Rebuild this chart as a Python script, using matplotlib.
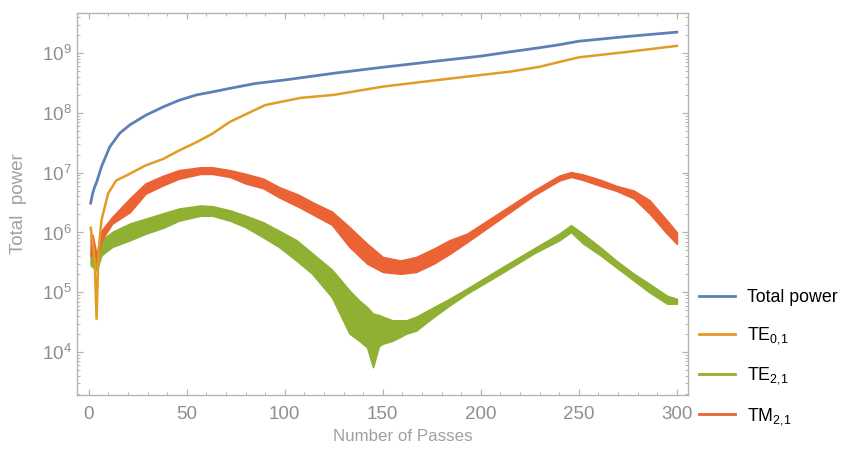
import matplotlib.pyplot as plt
from matplotlib.ticker import FixedLocator, LogLocator, MultipleLocator, NullFormatter

plt.rcParams['font.family'] = ['Liberation Sans', 'DejaVu Sans']
plt.rcParams['mathtext.fontset'] = 'custom'
plt.rcParams['mathtext.rm'] = 'Liberation Sans'

# Mathematica default palette
colors = ['#5E81B5', '#E19C24', '#8FB032', '#EB6235']

# Total power
total_passes = [1, 2, 3, 4, 6.5, 10.7, 15.8, 21, 29, 38, 46, 55, 63, 72, 85, 100,
                125, 150, 175, 200, 215, 230, 240, 250, 275, 300]
total_power = [3.1e6, 4.5e6, 5.75e6, 6.9e6, 1.26e7, 2.69e7, 4.57e7, 6.3e7, 9.1e7,
               1.26e8, 1.62e8, 2.0e8, 2.24e8, 2.57e8, 3.1e8, 3.55e8, 4.6e8, 5.8e8,
               7.2e8, 8.9e8, 1.05e9, 1.23e9, 1.38e9, 1.58e9, 1.9e9, 2.24e9]

# TE0,1
te01_passes = [1, 2, 3, 4, 5, 6.5, 9.9, 14, 19, 29, 38, 46, 55, 63, 72, 90, 108,
               125, 150, 175, 200, 215, 230, 240, 250, 275, 300]
te01_power = [1.2e6, 7e5, 3.5e5, 3.6e4, 5.0e5, 1.6e6, 4.5e6, 7.4e6, 8.9e6, 1.32e7,
              1.7e7, 2.34e7, 3.24e7, 4.47e7, 7.08e7, 1.35e8, 1.78e8, 2.0e8,
              2.75e8, 3.45e8, 4.3e8, 4.9e8, 5.9e8, 7.1e8, 8.5e8, 1.05e9, 1.32e9]

# TM2,1 oscillates quickly pass to pass: lower / upper envelope
tm21_passes = [1, 2, 4, 6.5, 12, 21, 29, 38, 46, 57, 63, 72, 80, 89, 97, 107, 115,
               124, 133, 142, 150, 159, 167, 176, 184, 193, 210, 227, 240, 246,
               252, 261, 269, 278, 286, 295, 300]
tm21_low = [4.0e5, 5.0e5, 3.3e5, 7.4e5, 1.41e6, 2.19e6, 4.47e6, 6.17e6, 7.94e6,
            9.55e6, 9.55e6, 8.51e6, 6.61e6, 5.5e6, 3.89e6, 2.69e6, 1.95e6, 1.35e6,
            5.75e5, 3.02e5, 2.19e5, 2.04e5, 2.19e5, 3.02e5, 4.37e5, 6.92e5, 1.7e6,
            4.17e6, 7.41e6, 8.51e6, 7.59e6, 6.03e6, 5.01e6, 3.72e6, 2.09e6, 9.55e5,
            6.46e5]
tm21_high = [9.55e5, 8.91e5, 4.17e5, 1.07e6, 1.82e6, 3.72e6, 6.61e6, 8.91e6, 1.1e7,
             1.23e7, 1.23e7, 1.1e7, 9.55e6, 7.94e6, 5.75e6, 4.27e6, 3.09e6, 2.24e6,
             1.23e6, 6.46e5, 3.89e5, 3.39e5, 3.89e5, 5.37e5, 7.41e5, 9.55e5, 2.19e6,
             5.01e6, 8.91e6, 1.02e7, 9.33e6, 7.59e6, 6.03e6, 5.01e6, 3.47e6, 1.58e6,
             1.0e6]

# TE2,1 lower / upper envelope
te21_passes = [1, 4, 6.5, 12, 21, 29, 38, 46, 57, 63, 72, 80, 89, 97, 106, 114, 124,
               133, 138, 142, 145, 148, 150, 155, 162, 167, 176, 184, 193, 210, 227,
               240, 246, 252, 261, 269, 278, 286, 295, 300]
te21_low = [2.82e5, 2.34e5, 4.17e5, 5.75e5, 7.41e5, 9.55e5, 1.2e6, 1.58e6, 1.91e6,
            1.91e6, 1.58e6, 1.23e6, 8.3e5, 5.75e5, 3.39e5, 2.04e5, 8.3e4, 2.04e4,
            1.55e4, 1.2e4, 5.6e3, 1.26e4, 1.38e4, 1.55e4, 2.04e4, 2.29e4, 3.89e4,
            6.03e4, 9.55e4, 2.04e5, 4.47e5, 7.41e5, 1.02e6, 6.61e5, 4.17e5, 2.63e5,
            1.58e5, 1.0e5, 6.46e4, 6.46e4]
te21_high = [5.01e5, 4.47e5, 7.41e5, 1.02e6, 1.41e6, 1.7e6, 2.09e6, 2.51e6, 2.82e6,
             2.75e6, 2.34e6, 1.91e6, 1.48e6, 1.07e6, 7.41e5, 4.47e5, 2.4e5, 1.07e5,
             7.24e4, 5.62e4, 4.37e4, 4.17e4, 3.89e4, 3.39e4, 3.39e4, 3.89e4, 5.62e4,
             7.76e4, 1.15e5, 2.51e5, 5.37e5, 9.55e5, 1.32e6, 9.55e5, 5.62e5, 3.39e5,
             2.04e5, 1.38e5, 8.71e4, 7.76e4]

labels = ['Total power', r'TE$_{0{,}1}$', r'TE$_{2{,}1}$', r'TM$_{2{,}1}$']
x_ticks = [0, 50, 100, 150, 200, 250, 300]
y_ticks = [1e4, 1e5, 1e6, 1e7, 1e8, 1e9]

fig = plt.figure(figsize=(8.44, 4.49), dpi=100)
ax = fig.add_axes([0.0912, 0.120, 0.7238, 0.851])

# noisy modes drawn as bands
ax.fill_between(te21_passes, te21_low, te21_high, color=colors[2], lw=1.2, ec=colors[2])
ax.fill_between(tm21_passes, tm21_low, tm21_high, color=colors[3], lw=1.2, ec=colors[3])
ax.plot(te01_passes, te01_power, color=colors[1], lw=1.8)
ax.plot(total_passes, total_power, color=colors[0], lw=2.0)

ax.set_yscale('log')
ax.set_xlim(-6, 305.6)
ax.set_ylim(10**3.28, 10**9.67)

ax.xaxis.set_major_locator(FixedLocator(x_ticks))
ax.xaxis.set_minor_locator(MultipleLocator(10))
ax.yaxis.set_major_locator(FixedLocator(y_ticks))
ax.yaxis.set_minor_locator(LogLocator(base=10, subs=range(2, 10), numticks=12))
ax.yaxis.set_minor_formatter(NullFormatter())

frame_gray = '#b4b4b4'
for s in ax.spines.values():
    s.set_color(frame_gray)
    s.set_linewidth(1.0)
ax.tick_params(which='both', direction='in', top=True, right=True, color=frame_gray,
               labelcolor='#8f8f8f', labelsize=13.5)
ax.tick_params(which='major', length=4.5, width=0.9)
ax.tick_params(which='minor', length=2.5, width=0.7)
ax.tick_params(axis='x', which='major', pad=7.5)

ax.set_xlabel('Number of Passes', color='#a0a0a0', fontsize=12.2)
ax.set_ylabel('Total  power', color='#a0a0a0', fontsize=13.5)
ax.xaxis.set_label_coords(0.533, -0.088)
ax.yaxis.set_label_coords(-0.081, 0.5)

# legend handles
handles = [plt.Line2D([], [], color=c, lw=2.0) for c in colors]
ax.legend(handles, labels, loc='center left', bbox_to_anchor=(0.82, 0.203),
          bbox_transform=fig.transFigure, frameon=False, fontsize=12.8,
          handlelength=2.0, handletextpad=0.7, labelspacing=1.08, borderaxespad=0)

fig.savefig('out.png', dpi=100)
